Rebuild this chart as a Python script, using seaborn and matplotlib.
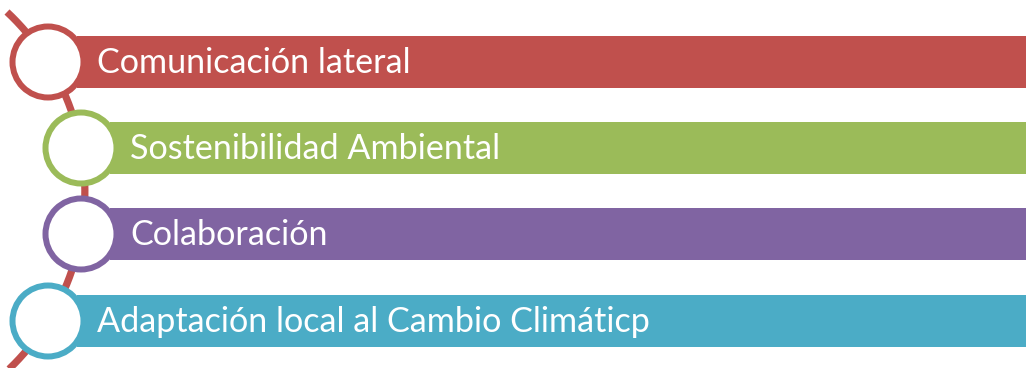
import numpy as np
import pandas as pd
import matplotlib
matplotlib.use("Agg")
import matplotlib.pyplot as plt
import seaborn as sns

# ---- data ----
labels = ["Comunicación lateral", "Sostenibilidad Ambiental", "Colaboración",
          "Adaptación local al Cambio Climáticp"]
colors = ["#C0504D", "#9BBB59", "#8064A2", "#4BACC6"]

# ---- layout (pixels) ----
W, H = 1026, 368
row_y = [62, 148, 234, 321]
circle_x = [48, 81, 81, 48]
bar_offset = 29
text_offset = 49
bar_end = 1040
line_color = "#C0504D"
FONT = "Lato"

sns.set_theme(style="white")
plt.rcParams["font.family"] = [FONT, "DejaVu Sans"]

fig = plt.figure(figsize=(W / 100, H / 100), dpi=100)
ax = fig.add_axes([0, 0, 1, 1])

df = pd.DataFrame({"label": labels, "y": row_y, "end": [bar_end] * 4})
sns.barplot(data=df, x="end", y="y", hue="label", palette=colors, orient="h",
            native_scale=True, width=0.6, dodge=False, legend=False,
            saturation=1, ax=ax, zorder=2)
starts = [cx + bar_offset for cx in circle_x]
for p in ax.patches:
    yc = p.get_y() + p.get_height() / 2
    i = int(np.argmin([abs(yc - r) for r in row_y]))
    p.set_x(starts[i])
    p.set_width(bar_end - starts[i])
    p.set_edgecolor("none")

# connector arc through circle centres (circle fit, symmetric)
yc_mid = (row_y[0] + row_y[-1]) / 2
x1, y1 = circle_x[0], row_y[0]
x2, y2 = circle_x[1], row_y[1]
d1, d2 = (y1 - yc_mid), (y2 - yc_mid)
cxa = ((x1 ** 2 + d1 ** 2) - (x2 ** 2 + d2 ** 2)) / (2 * (x1 - x2))
R = np.hypot(x2 - cxa, d2)
yy = np.linspace(12, 372, 300)
xx = cxa + np.sqrt(np.clip(R ** 2 - (yy - yc_mid) ** 2, 0, None))
ax.plot(xx, yy, color=line_color, lw=5.2, solid_capstyle="butt", zorder=1)

# circles
r_out, ring = 38.5, 6
diam_pt = 2 * (r_out - ring / 2) * 0.72
sns.scatterplot(x=circle_x, y=row_y, hue=labels, palette=colors, s=diam_pt ** 2,
                linewidth=ring * 0.72, legend=False, ax=ax, zorder=3)
coll = ax.collections[-1]
fc = coll.get_facecolors()
coll.set_edgecolors(fc)
coll.set_facecolors("white")

# text size fit to reference width
renderer = fig.canvas.get_renderer()
t = ax.text(0, 0, labels[0], fontsize=20)
wpx = t.get_window_extent(renderer).width
t.remove()
fs = 20 * 315 / wpx

for i, lab in enumerate(labels):
    ax.text(circle_x[i] + text_offset, row_y[i] + 10.7, lab, color="white",
            fontsize=fs, va="baseline", ha="left", zorder=4)

ax.set_xlim(0, W)
ax.set_ylim(H, 0)
ax.axis("off")
fig.savefig("out.png", dpi=100)
